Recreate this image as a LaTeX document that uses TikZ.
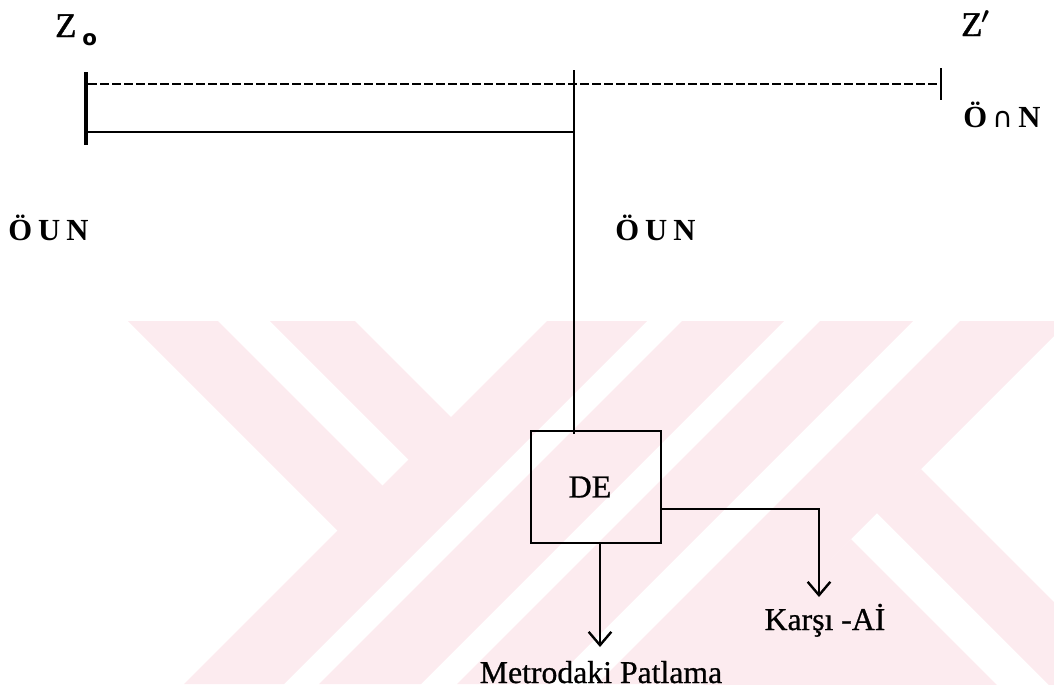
\documentclass[tikz,border=0pt]{standalone}
\usepackage{fontspec}
\setmainfont{Liberation Serif}
\newfontfamily\tmsfont[FakeBold=0.8]{Liberation Serif}
\newfontfamily\zfont[FakeBold=1.2]{Liberation Serif}
\newfontfamily\dvsans{DejaVu Sans}
\usetikzlibrary{arrows.meta,calc}
\definecolor{wmpink}{RGB}{252,235,239}
\begin{document}
\begin{tikzpicture}[x=0.75pt,y=-0.75pt,
  line/.style={line width=1.8pt, draw=black},
  thickline/.style={line width=2.4pt, draw=black},
  dashline/.style={line width=1.8pt, draw=black, dash pattern=on 6.75pt off 2.25pt},
  arr/.style={line, -{Straight Barb[length=10pt,width=17pt]}},
  lbl/.style={inner sep=0pt, anchor=base west},
  clbl/.style={inner sep=0pt, anchor=base},
  tms/.style={font=\tmsfont\fontsize{23.8}{26}\selectfont},
  setl/.style={font=\bfseries\fontsize{23}{26}\selectfont},
  boxstyle/.style={draw=black, line width=1.8pt, minimum width=97.5pt, minimum height=84pt, inner sep=0pt, font=\tmsfont\fontsize{24}{26}\selectfont}
]
\path[use as bounding box] (0,0) rectangle (1054,694);

% watermark
\begin{scope}
\clip (0,321) rectangle (1054,684);
\fill[wmpink] (128,321) -- (218,321) -- (383.5,486.5) -- (338.5,531.5) -- cycle;
\fill[wmpink] (270,321) -- (355,321) -- (452,418) -- (409.5,460.5) -- cycle;
\fill[wmpink] (547,321) -- (647,321) -- (284,684) -- (184,684) -- cycle;
\fill[wmpink] (682,321) -- (784,321) -- (421,684) -- (319,684) -- cycle;
\fill[wmpink] (820,321) -- (913,321) -- (550,684) -- (457,684) -- cycle;
\fill[wmpink] (960,321) -- (1069,321) -- (706,684) -- (597,684) -- cycle;
\fill[wmpink] (921,469) -- (1100,648) -- (1100,736) -- (876,512) -- cycle;
\fill[wmpink] (851,539) -- (1100,788) -- (600,788) -- (700,688) -- cycle;
\end{scope}

% labels
\node[lbl, font=\zfont\fontsize{26}{28}\selectfont] (z0) at (55,37) {Z};
\node[lbl, font=\dvsans\bfseries\fontsize{16}{18}\selectfont] (z0sub) at (82,45) {o};
\node[lbl, font=\zfont\fontsize{26}{28}\selectfont] (z1) at (961,36) {Z\kern-1pt{\boldmath$^{\prime}$}};
\node[lbl, setl] (oin) at (963,127) {Ö\hspace{4pt}{\dvsans\mdseries\fontsize{21}{24}\selectfont ∩}\hspace{4pt}N};
\node[lbl, setl] (oun1) at (8,240) {Ö\hspace{4.5pt}U\hspace{4.5pt}N};
\node[lbl, setl] (oun2) at (615,240) {Ö\hspace{4.5pt}U\hspace{4.5pt}N};

% top structure
\coordinate (lt) at (86,72);
\coordinate (lb) at (86,145);
\coordinate (dl) at (88,84);
\coordinate (rt) at (941,68);
\coordinate (rb) at (941,100);
\coordinate (sl) at (86,132);
\coordinate (ctop) at (574,70);

\draw[thickline] (lt) -- (lb);
\draw[line, line width=2.2pt] (rt) -- (rb);
\draw[dashline] (dl) -- (dl -| rt);
\draw[line] (sl) -- (sl -| ctop);

% box
\node[boxstyle] (de) at (596,487) {DE\hspace*{9pt}};
\draw[line] (ctop) -- ($(ctop |- de.north)+(0,4)$);

% outputs
\node[clbl, tms] (karsi) at (825,630) {Karşı -Aİ};
\node[clbl, tms] (metro) at (601,683) {Metrodaki Patlama};
\coordinate (r0) at (661,509);
\coordinate (k1) at (819,597);
\coordinate (m1) at (600,647);
\draw[arr] (de.east |- r0) -| (k1);
\draw[arr] (de.south -| m1) -- (m1);
\end{tikzpicture}
\end{document}
